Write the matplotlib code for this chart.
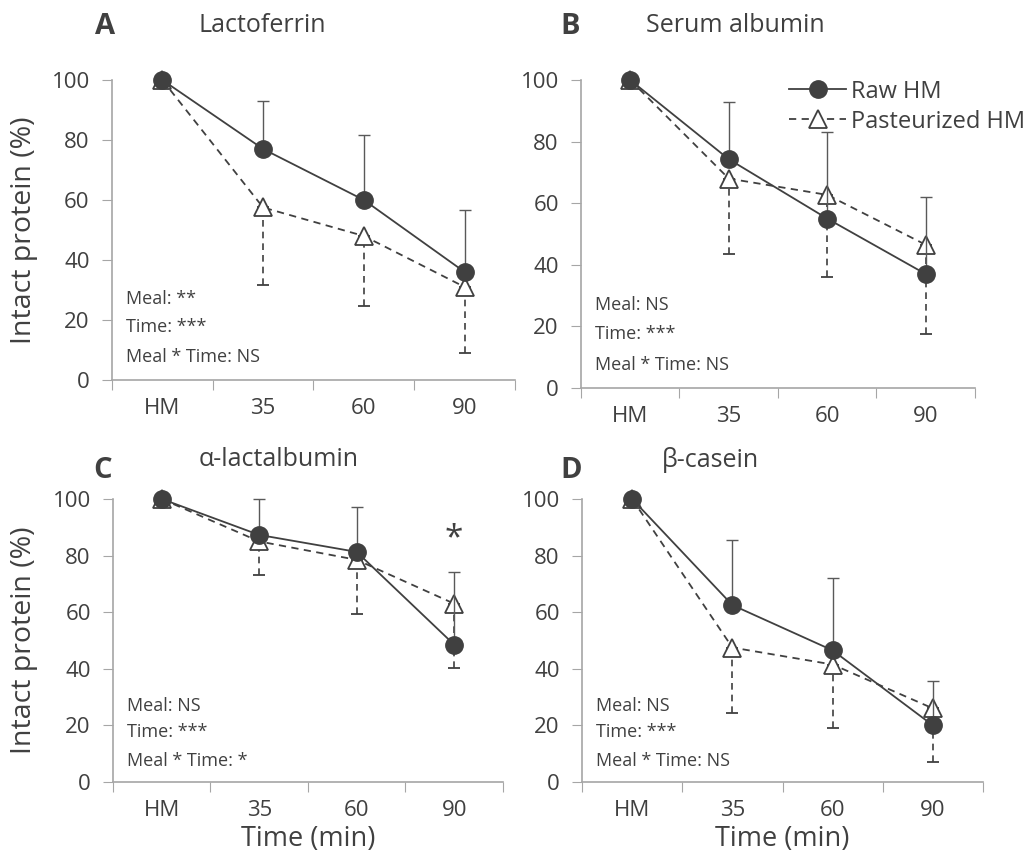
import matplotlib
matplotlib.use("Agg")
import matplotlib.pyplot as plt
from matplotlib.lines import Line2D
import numpy as np

plt.rcParams['font.family'] = ['Open Sans', 'DejaVu Sans']

categorias = ["HM", "35", "60", "90"]

titulos = ["Lactoferrin", "Serum albumin", "\u03b1-lactalbumin", "\u03b2-casein"]
letras = ["A", "B", "C", "D"]

raw_A = [100, 77, 60, 36]
raw_A_err = [0, 16, 21.5, 20.5]
past_A = [100, 57.5, 48, 31]
past_A_err = [0, 26, 23.5, 22]

raw_B = [100, 74.3, 55, 37]
raw_B_err = [0, 18.5, 28, 25]
past_B = [100, 68, 62.7, 46.5]
past_B_err = [0, 24.5, 26.5, 29]

raw_C = [100, 87.3, 81.3, 48.5]
raw_C_err = [0, 12.7, 15.7, 25.8]
past_C = [100, 85, 78.5, 63]
past_C_err = [0, 12, 19, 22.6]

raw_D = [100, 62.5, 46.5, 20]
raw_D_err = [0, 23, 25.5, 15.7]
past_D = [100, 47.5, 41.5, 26]
past_D_err = [0, 23, 22.5, 19]

estatisticas = [
    ["Meal: **", "Time: ***", "Meal * Time: NS"],
    ["Meal: NS", "Time: ***", "Meal * Time: NS"],
    ["Meal: NS", "Time: ***", "Meal * Time: *"],
    ["Meal: NS", "Time: ***", "Meal * Time: NS"],
]

dados = [
    (raw_A, raw_A_err, past_A, past_A_err),
    (raw_B, raw_B_err, past_B, past_B_err),
    (raw_C, raw_C_err, past_C, past_C_err),
    (raw_D, raw_D_err, past_D, past_D_err),
]

# posicoes dos eixos em fracao da figura (left, bottom, width, height)
posicoes = [
    [0.1088, 0.5597, 0.3917, 0.3476],
    [0.5646, 0.5504, 0.3829, 0.3569],
    [0.1098, 0.0939, 0.3790, 0.3279],
    [0.5656, 0.0939, 0.3897, 0.3279],
]

COR = '#404040'
COR_EIXO = '#a6a6a6'

fig = plt.figure(figsize=(10.29, 8.63), dpi=100)
x = np.arange(len(categorias))

for i in range(4):
    ax = fig.add_axes(posicoes[i])
    raw, raw_err, past, past_err = dados[i]

    # pasteurizado: linha tracejada, barra de erro para baixo
    eb = ax.errorbar(x, past, yerr=[past_err, np.zeros(len(x))], color=COR,
                     linestyle='--', linewidth=1.3, dashes=(4, 3), marker='^',
                     markersize=13, markerfacecolor='white', markeredgecolor=COR,
                     markeredgewidth=1.3, ecolor=COR, elinewidth=1.2, capsize=4,
                     capthick=1.2, clip_on=False, zorder=3)
    for barra in eb[2]:
        barra.set_linestyle((0, (4, 3)))

    # cru: linha continua, barra de erro para cima
    ax.errorbar(x, raw, yerr=[np.zeros(len(x)), raw_err], color=COR,
                linestyle='-', linewidth=1.3, marker='o', markersize=12.5,
                markerfacecolor=COR, markeredgecolor=COR, ecolor='#595959',
                elinewidth=1.0, capsize=4, capthick=1.0, clip_on=False,
                zorder=4)

    ax.set_xlim(-0.5, 3.5)
    ax.set_ylim(0, 100)
    ax.set_yticks([0, 20, 40, 60, 80, 100])
    ax.set_xticks(np.arange(-0.5, 4, 1.0))
    ax.set_xticklabels([])
    ax.set_xticks(x, minor=True)
    ax.set_xticklabels(categorias, minor=True)
    ax.tick_params(axis='x', which='major', length=7, color=COR_EIXO, direction='out')
    ax.tick_params(axis='x', which='minor', length=0, pad=13, labelsize=16, labelcolor=COR)
    ax.tick_params(axis='y', length=7, color=COR_EIXO, labelsize=16, labelcolor=COR, pad=9)

    for lado in ['top', 'right']:
        ax.spines[lado].set_visible(False)
    for lado in ['left', 'bottom']:
        ax.spines[lado].set_color(COR_EIXO)
        ax.spines[lado].set_linewidth(1.2)

    for texto, yy in zip(estatisticas[i], [0.27, 0.175, 0.075]):
        ax.text(0.035, yy, texto, transform=ax.transAxes, fontsize=13,
                color=COR, va='center', ha='left')

    if i % 2 == 0:
        ax.set_ylabel('Intact protein (%)', fontsize=20.5, color=COR)
        larg = posicoes[i][2] * 1029
        ax.yaxis.set_label_coords(-(posicoes[i][0] * 1029 - 38) / larg, 0.5)
    if i >= 2:
        ax.set_xlabel('Time (min)', fontsize=19.5, color=COR, labelpad=3)

    if i == 1:
        h_raw = Line2D([], [], color=COR, linestyle='-', linewidth=1.3, marker='o',
                       markersize=12.5, markerfacecolor=COR, markeredgecolor=COR)
        h_past = Line2D([], [], color=COR, linestyle='--', dashes=(4, 3), linewidth=1.3,
                        marker='^', markersize=13, markerfacecolor='white',
                        markeredgecolor=COR, markeredgewidth=1.3)
        ax.legend([h_raw, h_past], ['Raw HM', 'Pasteurized HM'], loc='upper right',
                  bbox_to_anchor=(1.18, 1.07), frameon=False, fontsize=17,
                  handlelength=2.4, handletextpad=0.2, labelspacing=0.25,
                  labelcolor=COR)
    if i == 2:
        ax.text(3, 86, '*', fontsize=24, color=COR, ha='center', va='center')

# letras e titulos dos paineis
fig.text(105 / 1029, 1 - 27 / 863, "A", fontsize=21, fontweight='bold', color=COR, ha='center', va='center')
fig.text(262 / 1029, 1 - 25 / 863, titulos[0], fontsize=18, color=COR, ha='center', va='center')
fig.text(570 / 1029, 1 - 27 / 863, "B", fontsize=21, fontweight='bold', color=COR, ha='center', va='center')
fig.text(735 / 1029, 1 - 25 / 863, titulos[1], fontsize=18, color=COR, ha='center', va='center')
fig.text(103 / 1029, 1 - 470 / 863, "C", fontsize=21, fontweight='bold', color=COR, ha='center', va='center')
fig.text(279 / 1029, 1 - 460 / 863, titulos[2], fontsize=18, color=COR, ha='center', va='center')
fig.text(571 / 1029, 1 - 470 / 863, "D", fontsize=21, fontweight='bold', color=COR, ha='center', va='center')
fig.text(710 / 1029, 1 - 460 / 863, titulos[3], fontsize=18, color=COR, ha='center', va='center')

fig.savefig('out.png', dpi=100)
